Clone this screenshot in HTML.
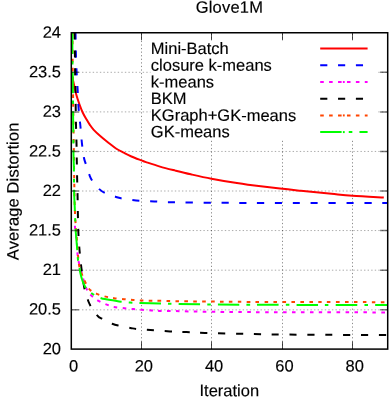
<!DOCTYPE html>
<html><head><meta charset="utf-8"><title>Glove1M</title>
<style>
html,body{margin:0;padding:0;background:#fff;}
body{width:390px;height:398px;overflow:hidden;}
svg{display:block;will-change:transform;}
text{font-family:"Liberation Sans",sans-serif;font-size:16.5px;fill:#000;stroke:#000;stroke-width:0.16px;text-rendering:geometricPrecision;}
</style></head><body>
<svg width="390" height="398" viewBox="0 0 390 398">
<rect x="0" y="0" width="390" height="398" fill="#fff"/>
<g stroke="#000" stroke-width="1" stroke-dasharray="1.4 2.17" fill="none"><path d="M141.50,349.1 V32.75" opacity="0.5" stroke-width="0.9" stroke-dasharray="1.25 2.32"/><path d="M211.50,349.1 V32.75" opacity="0.5" stroke-width="0.9" stroke-dasharray="1.25 2.32"/><path d="M282.50,349.1 V32.75" opacity="0.5" stroke-width="0.9" stroke-dasharray="1.25 2.32"/><path d="M352.50,349.1 V32.75" opacity="0.5" stroke-width="0.9" stroke-dasharray="1.25 2.32"/><path d="M71.3,72.30 H387.7" opacity="0.33"/><path d="M71.3,111.90 H387.7" opacity="0.33"/><path d="M71.3,151.45 H387.7" opacity="0.33"/><path d="M71.3,191.00 H387.7" opacity="0.33"/><path d="M71.3,230.55 H387.7" opacity="0.33"/><path d="M71.3,270.20 H387.7" opacity="0.33"/><path d="M71.3,309.85 H387.7" opacity="0.33"/></g>
<clipPath id="c"><rect x="71.3" y="32.75" width="316.4" height="316.35"/></clipPath>
<g clip-path="url(#c)" fill="none" stroke-width="2" stroke-linejoin="round">
<path d="M71.00,72.80 C71.30,73.88 71.95,75.77 72.80,79.30 C73.65,82.83 74.95,89.72 76.10,94.00 C77.25,98.28 78.58,101.88 79.70,105.00 C80.82,108.12 81.65,110.27 82.80,112.70 C83.95,115.13 85.45,117.62 86.60,119.60 C87.75,121.58 88.52,122.88 89.70,124.60 C90.88,126.32 91.75,127.82 93.70,129.90 C95.65,131.98 98.83,134.87 101.40,137.10 C103.97,139.33 106.67,141.40 109.10,143.30 C111.53,145.20 113.57,146.93 116.00,148.50 C118.43,150.07 121.13,151.37 123.70,152.70 C126.27,154.03 128.45,155.22 131.40,156.50 C134.35,157.78 138.97,159.47 141.40,160.40 C143.83,161.33 142.90,161.07 146.00,162.10 C149.10,163.13 155.10,165.18 160.00,166.60 C164.90,168.02 170.27,169.32 175.40,170.60 C180.53,171.88 184.80,172.95 190.80,174.30 C196.80,175.65 203.72,177.23 211.40,178.70 C219.08,180.17 230.08,182.02 236.90,183.10 C243.72,184.18 245.12,184.28 252.30,185.20 C259.48,186.12 271.92,187.67 280.00,188.60 C288.08,189.53 292.22,189.93 300.80,190.80 C309.38,191.67 322.88,192.98 331.50,193.80 C340.12,194.62 343.78,195.08 352.50,195.70 C361.22,196.32 378.58,197.20 383.80,197.50" stroke="#ff0000"/>
<path d="M75.50,32.50 C75.57,36.08 75.72,47.42 75.90,54.00 C76.08,60.58 76.32,66.17 76.60,72.00 C76.88,77.83 77.28,83.17 77.60,89.00 C77.92,94.83 78.05,101.00 78.50,107.00 C78.95,113.00 79.73,119.00 80.30,125.00 C80.87,131.00 81.30,137.58 81.90,143.00 C82.50,148.42 83.25,154.00 83.90,157.50 C84.55,161.00 84.90,161.13 85.80,164.00 C86.70,166.87 88.22,171.90 89.30,174.70 C90.38,177.50 90.63,178.40 92.30,180.80 C93.97,183.20 97.17,187.07 99.30,189.10 C101.43,191.13 102.42,191.73 105.10,193.00 C107.78,194.27 112.75,195.82 115.40,196.70 C118.05,197.58 118.18,197.77 121.00,198.30 C123.82,198.83 129.13,199.50 132.30,199.90 C135.47,200.30 137.00,200.47 140.00,200.70 C143.00,200.92 147.30,201.10 150.30,201.25 C153.30,201.40 155.10,201.44 158.00,201.60 C160.90,201.76 157.37,202.00 167.70,202.20 C178.03,202.40 201.28,202.65 220.00,202.80 C238.72,202.95 252.00,203.05 280.00,203.10 C308.00,203.15 370.00,203.10 388.00,203.10" stroke="#0000ff" stroke-dasharray="7.14 10.71" stroke-dashoffset="0"/>
<path d="M74.90,225.75 C74.93,226.12 74.87,226.12 75.10,228.00 C75.33,229.88 75.98,234.17 76.30,237.00 C76.62,239.83 76.80,242.17 77.00,245.00 C77.20,247.83 77.17,251.00 77.50,254.00 C77.83,257.00 78.08,259.17 78.95,263.00 C79.82,266.83 81.39,272.60 82.70,277.00 C84.01,281.40 85.32,286.27 86.80,289.40 C88.28,292.53 89.63,293.88 91.60,295.80 C93.57,297.72 96.07,299.43 98.60,300.90 C101.13,302.37 104.23,303.60 106.80,304.60 C109.37,305.60 111.03,306.30 114.00,306.90 C116.97,307.50 121.33,307.83 124.60,308.20 C127.87,308.57 130.70,308.83 133.60,309.10 C136.50,309.37 139.05,309.57 142.00,309.80 C144.95,310.03 148.38,310.32 151.30,310.50 C154.22,310.68 155.55,310.80 159.50,310.90 C163.45,311.00 167.42,310.97 175.00,311.10 C182.58,311.23 192.50,311.53 205.00,311.70 C217.50,311.87 230.83,312.00 250.00,312.10 C269.17,312.20 297.00,312.25 320.00,312.30 C343.00,312.35 376.67,312.38 388.00,312.40" stroke="#ff00ff" stroke-dasharray="3.57 5.35" stroke-dashoffset="0"/>
<path d="M74.50,32.50 C74.57,36.08 74.80,47.42 74.90,54.00 C75.00,60.58 75.00,66.17 75.10,72.00 C75.20,77.83 75.40,83.17 75.50,89.00 C75.60,94.83 75.62,101.00 75.70,107.00 C75.78,113.00 75.87,119.00 76.00,125.00 C76.13,131.00 76.37,137.00 76.50,143.00 C76.63,149.00 76.69,155.00 76.80,161.00 C76.91,167.00 77.02,173.00 77.15,179.00 C77.28,185.00 77.47,191.00 77.60,197.00 C77.72,203.00 77.77,209.00 77.90,215.00 C78.03,221.00 78.13,227.17 78.40,233.00 C78.67,238.83 79.00,244.17 79.50,250.00 C80.00,255.83 80.60,261.72 81.40,268.00 C82.20,274.28 83.23,282.42 84.30,287.70 C85.37,292.98 86.78,296.68 87.80,299.70 C88.82,302.72 89.77,304.33 90.40,305.80 C91.03,307.27 90.33,306.77 91.60,308.50 C92.87,310.23 96.28,314.50 98.00,316.20 C99.72,317.90 99.53,317.43 101.90,318.70 C104.27,319.97 109.22,322.60 112.20,323.80 C115.18,325.00 116.78,325.22 119.80,325.90 C122.82,326.58 127.53,327.38 130.30,327.90 C133.07,328.42 133.62,328.70 136.40,329.00 C139.18,329.30 141.40,329.30 147.00,329.70 C152.60,330.10 163.43,331.00 170.00,331.40 C176.57,331.80 180.57,331.85 186.40,332.10 C192.23,332.35 194.40,332.58 205.00,332.90 C215.60,333.22 238.00,333.73 250.00,334.00 C262.00,334.27 263.67,334.36 277.00,334.50 C290.33,334.64 311.50,334.75 330.00,334.85 C348.50,334.95 378.33,335.06 388.00,335.10" stroke="#000000" stroke-dasharray="7.14 10.71" stroke-dashoffset="0"/>
<path d="M72.50,32.50 C72.53,38.75 72.58,57.92 72.70,70.00 C72.82,82.08 72.95,87.00 73.20,105.00 C73.45,123.00 73.90,160.00 74.20,178.00 C74.50,196.00 74.55,202.67 75.00,213.00 C75.45,223.33 76.25,231.50 76.90,240.00 C77.55,248.50 78.02,258.15 78.90,264.00 C79.78,269.85 81.13,272.05 82.20,275.10 C83.27,278.15 83.93,279.77 85.30,282.30 C86.67,284.83 88.27,288.28 90.40,290.30 C92.53,292.32 95.37,293.30 98.10,294.40 C100.83,295.50 104.15,296.27 106.80,296.90 C109.45,297.53 111.13,297.82 114.00,298.20 C116.87,298.58 120.83,298.90 124.00,299.20 C127.17,299.50 130.00,299.78 133.00,300.00 C136.00,300.22 139.00,300.38 142.00,300.50 C145.00,300.62 148.00,300.65 151.00,300.70 C154.00,300.75 156.00,300.72 160.00,300.80 C164.00,300.88 167.50,301.08 175.00,301.20 C182.50,301.32 192.50,301.38 205.00,301.50 C217.50,301.62 230.83,301.81 250.00,301.90 C269.17,301.99 297.00,302.01 320.00,302.05 C343.00,302.09 376.67,302.13 388.00,302.15" stroke="#ff4500" stroke-dasharray="3.57 5.35" stroke-dashoffset="0.5"/>
<path d="M72.40,32.50 C72.40,36.08 72.32,44.42 72.40,54.00 C72.48,63.58 72.78,79.00 72.90,90.00 C73.03,101.00 73.07,111.50 73.15,120.00 C73.23,128.50 73.34,135.17 73.40,141.00 C73.46,146.83 73.42,150.50 73.50,155.00 C73.58,159.50 73.80,162.00 73.90,168.00 C74.00,174.00 73.93,183.83 74.10,191.00 C74.27,198.17 74.65,204.63 74.90,211.00 C75.15,217.37 75.20,222.70 75.60,229.20 C76.00,235.70 76.92,245.07 77.30,250.00 C77.68,254.93 77.53,255.87 77.90,258.80 C78.27,261.73 79.12,265.40 79.50,267.60 C79.88,269.80 79.78,270.23 80.15,272.00 C80.52,273.77 81.11,276.23 81.70,278.20 C82.29,280.17 82.93,282.10 83.70,283.80 C84.47,285.50 84.80,286.70 86.30,288.40 C87.80,290.10 90.22,292.37 92.70,294.00 C95.18,295.63 97.65,297.12 101.20,298.20 C104.75,299.28 110.68,299.92 114.00,300.50 C117.32,301.08 118.43,301.37 121.10,301.70 C123.77,302.03 126.85,302.28 130.00,302.50 C133.15,302.72 135.00,302.83 140.00,303.00 C145.00,303.17 154.17,303.35 160.00,303.50 C165.83,303.65 167.50,303.75 175.00,303.90 C182.50,304.05 192.50,304.27 205.00,304.40 C217.50,304.53 230.83,304.61 250.00,304.70 C269.17,304.79 297.00,304.88 320.00,304.95 C343.00,305.02 376.67,305.08 388.00,305.10" stroke="#00ff00" stroke-dasharray="21.42 7.14 3.57 7.14" stroke-dashoffset="0"/>
</g>
<rect x="150.5" y="40.5" width="226.5" height="99.5" fill="#fff"/>
<g stroke="#000" stroke-width="1" opacity="0.7" fill="none"><path d="M141.50,349.1 v-7.5 M141.50,32.75 v7.5"/><path d="M211.50,349.1 v-7.5 M211.50,32.75 v7.5"/><path d="M282.50,349.1 v-7.5 M282.50,32.75 v7.5"/><path d="M352.50,349.1 v-7.5 M352.50,32.75 v7.5"/><path d="M71.3,72.30 h7.6 M387.7,72.30 h-7.6" stroke-width="1.5" opacity="0.75"/><path d="M71.3,111.90 h7.6 M387.7,111.90 h-7.6" stroke-width="1.5" opacity="0.75"/><path d="M71.3,151.45 h7.6 M387.7,151.45 h-7.6" stroke-width="1.5" opacity="0.75"/><path d="M71.3,191.00 h7.6 M387.7,191.00 h-7.6" stroke-width="1.5" opacity="0.75"/><path d="M71.3,230.55 h7.6 M387.7,230.55 h-7.6" stroke-width="1.5" opacity="0.75"/><path d="M71.3,270.20 h7.6 M387.7,270.20 h-7.6" stroke-width="1.5" opacity="0.75"/><path d="M71.3,309.85 h7.6 M387.7,309.85 h-7.6" stroke-width="1.5" opacity="0.75"/></g>
<rect x="71.3" y="32.75" width="316.4" height="316.35" fill="none" stroke="#000" stroke-width="1.5"/>
<text transform="matrix(1,0.001,0,1,61.0,37.80)" text-anchor="end">24</text>
<text transform="matrix(1,0.001,0,1,61.0,77.34)" text-anchor="end">23.5</text>
<text transform="matrix(1,0.001,0,1,61.0,116.89)" text-anchor="end">23</text>
<text transform="matrix(1,0.001,0,1,61.0,156.43)" text-anchor="end">22.5</text>
<text transform="matrix(1,0.001,0,1,61.0,195.98)" text-anchor="end">22</text>
<text transform="matrix(1,0.001,0,1,61.0,235.52)" text-anchor="end">21.5</text>
<text transform="matrix(1,0.001,0,1,61.0,275.06)" text-anchor="end">21</text>
<text transform="matrix(1,0.001,0,1,61.0,314.61)" text-anchor="end">20.5</text>
<text transform="matrix(1,0.001,0,1,61.0,354.15)" text-anchor="end">20</text>
<text transform="matrix(1,0.001,0,1,73.50,371.55)" text-anchor="middle">0</text>
<text transform="matrix(1,0.001,0,1,143.81,371.55)" text-anchor="middle">20</text>
<text transform="matrix(1,0.001,0,1,214.12,371.55)" text-anchor="middle">40</text>
<text transform="matrix(1,0.001,0,1,284.43,371.55)" text-anchor="middle">60</text>
<text transform="matrix(1,0.001,0,1,354.74,371.55)" text-anchor="middle">80</text>
<text transform="matrix(1,0.001,0,1,229.3,396.15)" text-anchor="middle">Iteration</text>
<text transform="matrix(1,0.001,0,1,229.3,12.7)" text-anchor="middle" textLength="67.2" lengthAdjust="spacing">Glove1M</text>
<text transform="translate(18.5,191.4) rotate(-90) matrix(1,0.001,0,1,0,0)" text-anchor="middle" textLength="137.6" lengthAdjust="spacing">Average Distortion</text>
<text transform="matrix(1,0.001,0,1,150.8,54.00)">Mini-Batch</text>
<text transform="matrix(1,0.001,0,1,150.8,70.70)">closure k-means</text>
<text transform="matrix(1,0.001,0,1,150.8,87.40)">k-means</text>
<text transform="matrix(1,0.001,0,1,150.8,104.10)">BKM</text>
<text transform="matrix(1,0.001,0,1,150.8,120.80)">KGraph+GK-means</text>
<text transform="matrix(1,0.001,0,1,150.8,137.30)">GK-means</text>
<g fill="none" stroke-width="2"><path d="M320.2,48.60 H367.6" stroke="#ff0000"/><path d="M320.2,65.30 H367.6" stroke="#0000ff" stroke-dasharray="7.14 10.71"/><path d="M320.2,82.00 H367.6" stroke="#ff00ff" stroke-dasharray="3.57 5.35"/><path d="M320.2,98.70 H367.6" stroke="#000000" stroke-dasharray="7.14 10.71"/><path d="M320.2,115.40 H367.6" stroke="#ff4500" stroke-dasharray="3.57 5.35"/><path d="M320.2,132.10 H367.6" stroke="#00ff00" stroke-dasharray="21.42 7.14 3.57 7.14"/><path d="M342.9,82.00 H344.7" stroke="#ff00ff"/><path d="M342.9,115.40 H344.7" stroke="#ff4500"/><path d="M342.9,132.10 H344.7" stroke="#00ff00"/></g>
</svg>
</body></html>
